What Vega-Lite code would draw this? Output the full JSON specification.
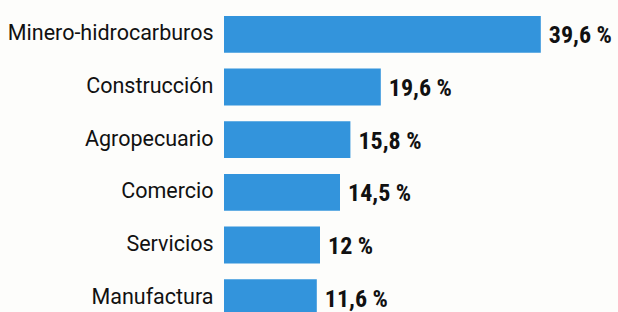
{
  "$schema": "https://vega.github.io/schema/vega-lite/v6.json",
  "autosize": {"type": "none"},
  "padding": {"left": 224, "top": 8, "right": 0, "bottom": 0},
  "width": 394,
  "height": 316,
  "background": "#fdfdfb",
  "data": {"values": [
    {"sector": "Minero-hidrocarburos", "value": 39.6, "label": "39,6 %"},
    {"sector": "Construcción", "value": 19.6, "label": "19,6 %"},
    {"sector": "Agropecuario", "value": 15.8, "label": "15,8 %"},
    {"sector": "Comercio", "value": 14.5, "label": "14,5 %"},
    {"sector": "Servicios", "value": 12, "label": "12 %"},
    {"sector": "Manufactura", "value": 11.6, "label": "11,6 %"}
  ]},
  "encoding": {
    "y": {"field": "sector", "type": "nominal", "sort": null,
      "scale": {"paddingInner": 0.3, "paddingOuter": 0.15},
      "axis": {"title": null, "domain": false, "ticks": false, "labelPadding": 11,
        "labelFont": "Roboto", "labelFontSize": 21.5, "labelColor": "#111111", "labelLimit": 300}},
    "x": {"field": "value", "type": "quantitative",
      "scale": {"domain": [0, 49.25], "nice": false, "zero": true}, "axis": null}
  },
  "layer": [
    {"mark": {"type": "bar", "color": "#3394dc"}},
    {"mark": {"type": "text", "align": "left", "baseline": "middle", "dx": 8, "dy": 2,
      "font": "Roboto Condensed", "fontWeight": "bold", "fontSize": 24, "color": "#111111"},
     "encoding": {"text": {"field": "label"}}}
  ],
  "config": {"view": {"stroke": null}}
}
